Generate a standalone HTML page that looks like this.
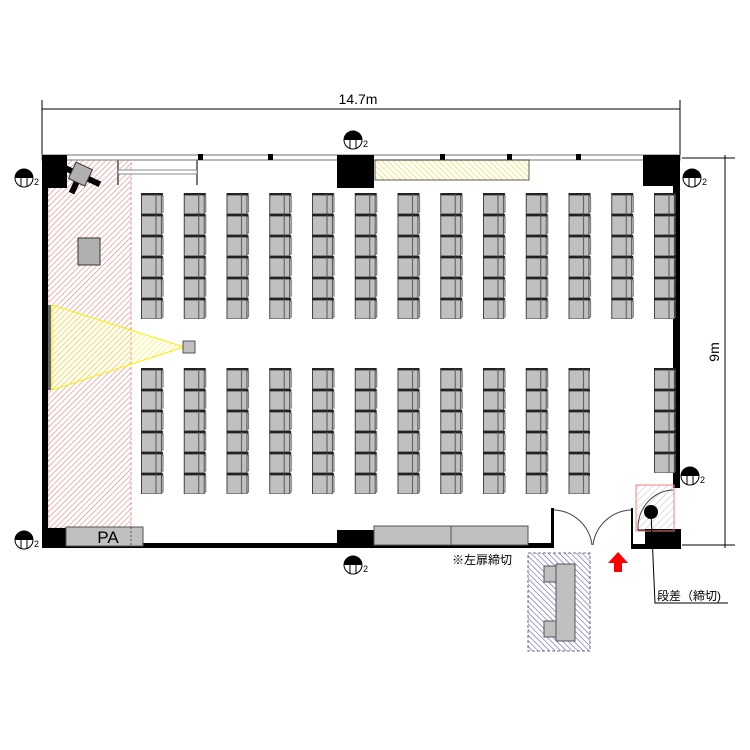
<!DOCTYPE html>
<html><head><meta charset="utf-8"><style>
html,body{margin:0;padding:0;background:#fff;width:750px;height:750px;overflow:hidden}
text{font-family:"Liberation Sans","Noto Sans CJK JP",sans-serif}
</style></head><body>
<svg width="750" height="750" viewBox="0 0 750 750" xmlns="http://www.w3.org/2000/svg">
<defs>
<pattern id="ch1" x="141" y="193" width="42.75" height="21" patternUnits="userSpaceOnUse">
 <rect x="0.5" y="1" width="20" height="20" fill="#c0c0c0" stroke="#444" stroke-width="1"/>
 <line x1="0" y1="1.2" x2="22" y2="1.2" stroke="#222" stroke-width="2.4"/>
 <line x1="15" y1="1" x2="15" y2="21" stroke="#555" stroke-width="1"/>
 <path d="M20.5 3 H22 V19 H20.5" fill="none" stroke="#666" stroke-width="1"/>
</pattern>
<pattern id="ch2" x="141" y="368" width="42.75" height="21" patternUnits="userSpaceOnUse">
 <rect x="0.5" y="1" width="20" height="20" fill="#c0c0c0" stroke="#444" stroke-width="1"/>
 <line x1="0" y1="1.2" x2="22" y2="1.2" stroke="#222" stroke-width="2.4"/>
 <line x1="15" y1="1" x2="15" y2="21" stroke="#555" stroke-width="1"/>
 <path d="M20.5 3 H22 V19 H20.5" fill="none" stroke="#666" stroke-width="1"/>
</pattern>
<pattern id="red" width="4" height="4" patternUnits="userSpaceOnUse" patternTransform="rotate(45)">
 <line x1="0" y1="0" x2="0" y2="4" stroke="#f08080" stroke-width="1.2"/>
</pattern>
<pattern id="yel" width="4" height="4" patternUnits="userSpaceOnUse" patternTransform="rotate(-45)">
 <line x1="0" y1="0" x2="0" y2="4" stroke="#f0d000" stroke-width="1"/>
</pattern>
<pattern id="yel2" width="4" height="4" patternUnits="userSpaceOnUse" patternTransform="rotate(45)">
 <line x1="0" y1="0" x2="0" y2="4" stroke="#ffee00" stroke-width="1"/>
</pattern>
<pattern id="blue" width="4" height="4" patternUnits="userSpaceOnUse" patternTransform="rotate(-45)">
 <line x1="0" y1="0" x2="0" y2="4" stroke="#5050d0" stroke-width="1.1"/>
</pattern>
<pattern id="gray" width="5" height="5" patternUnits="userSpaceOnUse" patternTransform="rotate(45)">
 <line x1="0" y1="0" x2="0" y2="5" stroke="#bbb" stroke-width="1"/>
</pattern>
<g id="col">
 <circle cx="0" cy="0" r="9" fill="#fff" stroke="#000" stroke-width="1"/>
 <path d="M-9 0 A9 9 0 0 1 9 0 Z" fill="#000"/>
 <line x1="-3" y1="-4" x2="-3" y2="9" stroke="#000"/>
 <line x1="3" y1="-4" x2="3" y2="9" stroke="#000"/>
 <line x1="-7" y1="-4" x2="7" y2="-4" stroke="#000"/>
</g>
</defs>

<!-- dimensions -->
<line x1="42" y1="100" x2="42" y2="160" stroke="#000" stroke-width="1"/>
<line x1="680" y1="100" x2="680" y2="160" stroke="#000" stroke-width="1"/>
<line x1="42" y1="109" x2="680" y2="109" stroke="#000" stroke-width="1"/>
<text x="358" y="104" font-size="14" text-anchor="middle">14.7m</text>
<line x1="682" y1="158" x2="735" y2="158" stroke="#000"/>
<line x1="682" y1="545" x2="735" y2="545" stroke="#000"/>
<line x1="725" y1="155" x2="725" y2="548" stroke="#000"/>
<text x="0" y="0" font-size="14" text-anchor="middle" transform="translate(719,352) rotate(-90)">9m</text>

<!-- red area -->
<rect x="48" y="160" width="83" height="368" fill="url(#red)" stroke="#e08080" stroke-width="0.8" stroke-dasharray="3,2"/>
<polygon points="52,305 52,390 184,347" fill="url(#yel2)" stroke="#ffee00" stroke-width="1"/>
<rect x="48" y="305" width="3" height="85" fill="#666"/>
<rect x="183" y="341" width="12" height="12" fill="#c0c0c0" stroke="#555"/>
<rect x="78" y="238" width="22" height="27" fill="#b0b0b0" stroke="#333"/>

<!-- top wall -->
<rect x="42" y="155" width="638" height="5" fill="#fff" stroke="#888" stroke-width="1.2"/>
<rect x="198" y="154" width="5" height="6" fill="#000"/>
<rect x="268" y="154" width="5" height="6" fill="#000"/>
<rect x="440" y="154" width="5" height="6" fill="#000"/>
<rect x="507" y="154" width="5" height="6" fill="#000"/>
<rect x="576" y="154" width="5" height="6" fill="#000"/>
<rect x="375" y="160" width="154" height="20" fill="url(#yel)" stroke="#333" stroke-width="0.8"/>
<line x1="118" y1="160" x2="118" y2="185" stroke="#777" stroke-width="2"/>
<line x1="197" y1="160" x2="197" y2="185" stroke="#777" stroke-width="2"/>
<rect x="118" y="170" width="79" height="4" fill="#fff" stroke="#888"/>

<!-- blocks -->
<rect x="42" y="155" width="25" height="33" fill="#000"/>
<rect x="337" y="155" width="37" height="33" fill="#000"/>
<rect x="643" y="155" width="37" height="31" fill="#000"/>
<rect x="673" y="155" width="7" height="333" fill="#000"/>
<rect x="42" y="155" width="6" height="393" fill="#000"/>
<rect x="42" y="543" width="511" height="5" fill="#000"/>
<rect x="42" y="528" width="24" height="20" fill="#000"/>
<rect x="337" y="530" width="37" height="18" fill="#000"/>
<rect x="645" y="529" width="36" height="20" fill="#000"/>
<rect x="631" y="544" width="15" height="5" fill="#000"/>
<rect x="551" y="508" width="3" height="40" fill="#000"/>
<rect x="631" y="508" width="2" height="40" fill="#000"/>

<!-- projector -->
<g transform="translate(80,175) rotate(25)">
 <rect x="-22" y="-3" width="44" height="6" fill="#000"/>
 <rect x="-3" y="0" width="6" height="20" fill="#000"/>
 <rect x="-9" y="-10" width="18" height="18" fill="#b0b0b0" stroke="#333"/>
</g>

<!-- PA and bottom boxes -->
<rect x="66" y="527" width="77" height="19" fill="#c0c0c0" stroke="#555"/>
<line x1="131" y1="527" x2="131" y2="546" stroke="#555" stroke-dasharray="2,2"/>
<text x="108" y="543" font-size="17" text-anchor="middle">PA</text>
<rect x="374" y="526" width="77" height="19" fill="#c0c0c0" stroke="#555"/>
<rect x="451" y="526" width="77" height="19" fill="#c0c0c0" stroke="#555"/>

<!-- chairs -->
<rect x="141" y="193" width="535" height="126" fill="url(#ch1)"/>
<rect x="141" y="368" width="449" height="126" fill="url(#ch2)"/>
<rect x="653" y="368" width="23" height="105" fill="url(#ch2)"/>

<!-- doors -->
<path d="M554 510 A40 40 0 0 1 592 545" fill="none" stroke="#444"/>
<path d="M631 510 A40 40 0 0 0 593 545" fill="none" stroke="#444"/>
<polygon points="618,552 628,563 622,563 622,572 614,572 614,563 608,563" fill="#f00"/>

<!-- step square -->
<rect x="636" y="485" width="38" height="46" fill="url(#gray)" stroke="#f08080" stroke-width="1"/>
<path d="M638 530 A36 38 0 0 1 673 490" fill="none" stroke="#444"/>
<line x1="638" y1="530" x2="674" y2="530" stroke="#000" stroke-width="1"/>
<circle cx="651" cy="512" r="7" fill="#000"/>
<polyline points="651,512 655,603 728,603" fill="none" stroke="#000" stroke-width="1"/>
<text x="657" y="600" font-size="12">段差（締切)</text>

<!-- blue reception -->
<rect x="528" y="553" width="62" height="98" fill="url(#blue)" stroke="#444" stroke-width="0.8" stroke-dasharray="3,2"/>
<rect x="556" y="564" width="19" height="77" fill="#c0c0c0" stroke="#555"/>
<rect x="544" y="566" width="12" height="16" fill="#c0c0c0" stroke="#555"/>
<rect x="544" y="621" width="12" height="16" fill="#c0c0c0" stroke="#555"/>
<text x="452" y="564" font-size="12">※左扉締切</text>

<!-- column symbols -->
<use href="#col" x="24" y="178"/><text x="34" y="185" font-size="9">2</text>
<use href="#col" x="353" y="140"/><text x="363" y="147" font-size="9">2</text>
<use href="#col" x="692" y="178"/><text x="702" y="185" font-size="9">2</text>
<use href="#col" x="690" y="476"/><text x="700" y="483" font-size="9">2</text>
<use href="#col" x="24" y="540"/><text x="34" y="547" font-size="9">2</text>
<use href="#col" x="353" y="565"/><text x="363" y="572" font-size="9">2</text>
</svg>
</body></html>
